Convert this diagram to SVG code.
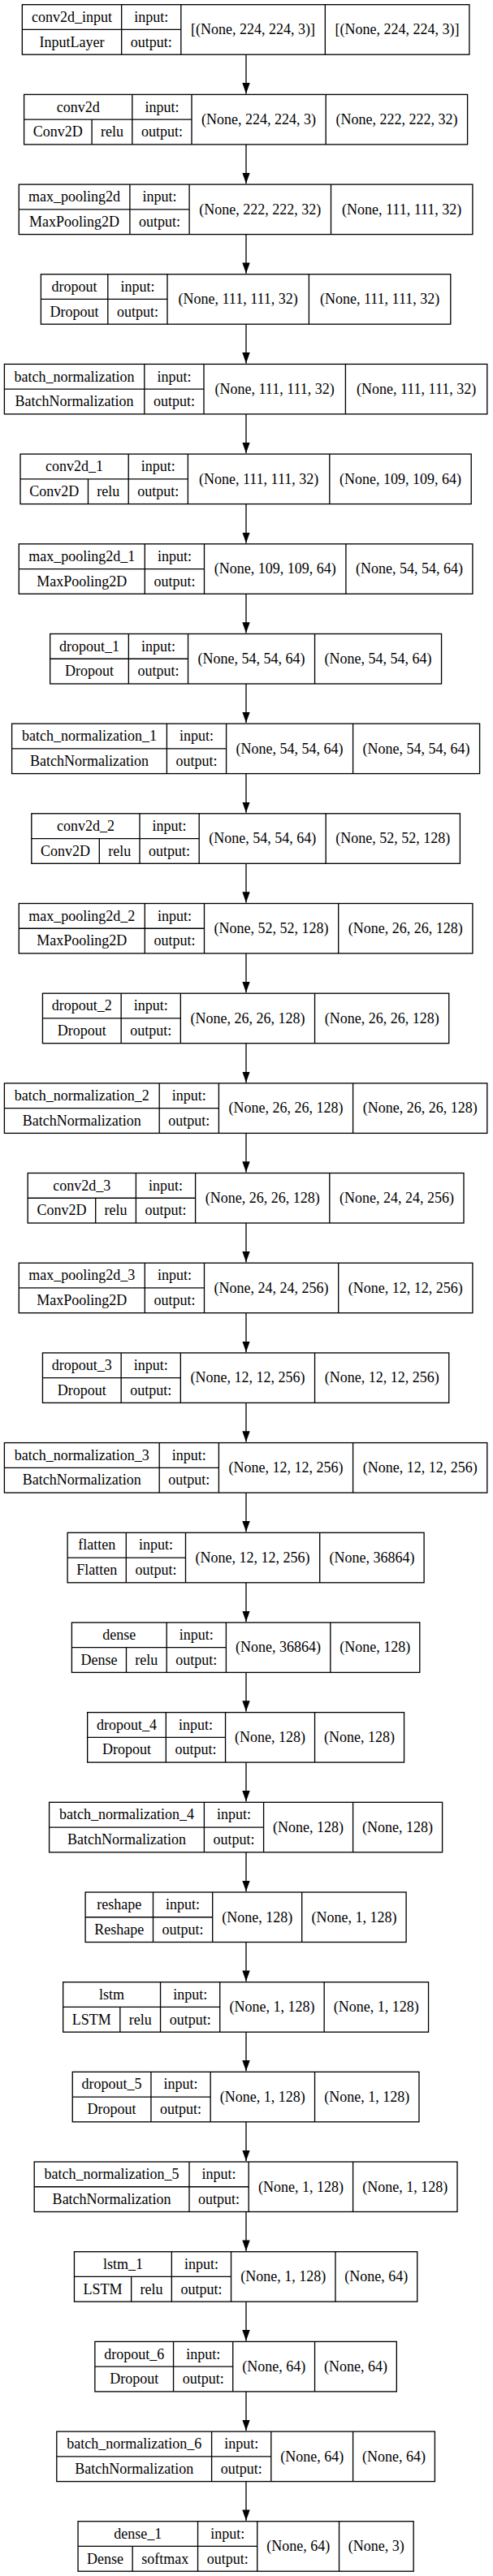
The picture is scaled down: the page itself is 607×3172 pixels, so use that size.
<svg xmlns="http://www.w3.org/2000/svg" width="607" height="3172" viewBox="0 0 607 3172">
<style>
.n rect{fill:#fff;stroke:#000;stroke-width:1.33}
.n path{fill:none;stroke:#000;stroke-width:1.33}
.n text{font-family:"Liberation Serif","Times New Roman",serif;font-size:18px;text-anchor:middle;fill:#000}
#edges path{fill:none;stroke:#000;stroke-width:1.33;marker-end:url(#ah)}
</style>
<defs>
<marker id="ah" markerWidth="14" markerHeight="10" refX="13.3" refY="4.7" orient="auto" markerUnits="userSpaceOnUse"><path d="M0,0 L13.3,4.7 L0,9.4 z" fill="#000"/></marker>
</defs>
<rect width="607" height="3172" fill="#fff"/>
<g id="edges">
<path d="M303 67.2V115.4"/>
<path d="M303 177.9V226.1"/>
<path d="M303 288.6V336.7"/>
<path d="M303 399.2V447.4"/>
<path d="M303 509.9V558.1"/>
<path d="M303 620.6V668.8"/>
<path d="M303 731.3V779.5"/>
<path d="M303 842V890.1"/>
<path d="M303 952.6V1000.8"/>
<path d="M303 1063.3V1111.5"/>
<path d="M303 1174V1222.2"/>
<path d="M303 1284.7V1332.9"/>
<path d="M303 1395.4V1443.5"/>
<path d="M303 1506V1554.2"/>
<path d="M303 1616.7V1664.9"/>
<path d="M303 1727.4V1775.6"/>
<path d="M303 1838.1V1886.3"/>
<path d="M303 1948.8V1996.9"/>
<path d="M303 2059.4V2107.6"/>
<path d="M303 2170.1V2218.3"/>
<path d="M303 2280.8V2329"/>
<path d="M303 2391.5V2439.7"/>
<path d="M303 2502.2V2550.3"/>
<path d="M303 2612.8V2661"/>
<path d="M303 2723.5V2771.7"/>
<path d="M303 2834.2V2882.4"/>
<path d="M303 2944.9V2993.1"/>
<path d="M303 3055.6V3103.7"/>
</g>
<g id="conv2d_input" class="n" transform="translate(27.35,5.7)"><rect width="550.5" height="61.5"/><path d="M122.3 0V61.5M195.5 0V61.5M373 0V61.5M0 30.75H195.5"/><text x="61.15" y="21.2">conv2d_input</text><text x="61.15" y="51.9">InputLayer</text><text x="158.9" y="21.2">input:</text><text x="158.9" y="51.9">output:</text><text x="284.25" y="36.6">[(None, 224, 224, 3)]</text><text x="461.75" y="36.6">[(None, 224, 224, 3)]</text></g>
<g id="conv2d" class="n" transform="translate(29.6,116.4)"><rect width="546" height="61.5"/><path d="M133.2 0V61.5M206.4 0V61.5M371.6 0V61.5M0 30.75H206.4M83.5 30.75V61.5"/><text x="66.6" y="21.2">conv2d</text><text x="41.75" y="51.9">Conv2D</text><text x="108.35" y="51.9">relu</text><text x="169.8" y="21.2">input:</text><text x="169.8" y="51.9">output:</text><text x="289" y="36.6">(None, 224, 224, 3)</text><text x="458.8" y="36.6">(None, 222, 222, 32)</text></g>
<g id="max_pooling2d" class="n" transform="translate(23.3,227.1)"><rect width="558.6" height="61.5"/><path d="M136.6 0V61.5M209.8 0V61.5M384.2 0V61.5M0 30.75H209.8"/><text x="68.3" y="21.2">max_pooling2d</text><text x="68.3" y="51.9">MaxPooling2D</text><text x="173.2" y="21.2">input:</text><text x="173.2" y="51.9">output:</text><text x="297" y="36.6">(None, 222, 222, 32)</text><text x="471.4" y="36.6">(None, 111, 111, 32)</text></g>
<g id="dropout" class="n" transform="translate(50.4,337.7)"><rect width="504.4" height="61.5"/><path d="M82.4 0V61.5M155.6 0V61.5M330 0V61.5M0 30.75H155.6"/><text x="41.2" y="21.2">dropout</text><text x="41.2" y="51.9">Dropout</text><text x="119" y="21.2">input:</text><text x="119" y="51.9">output:</text><text x="242.8" y="36.6">(None, 111, 111, 32)</text><text x="417.2" y="36.6">(None, 111, 111, 32)</text></g>
<g id="batch_normalization" class="n" transform="translate(5.4,448.4)"><rect width="594.4" height="61.5"/><path d="M172.4 0V61.5M245.6 0V61.5M420 0V61.5M0 30.75H245.6"/><text x="86.2" y="21.2">batch_normalization</text><text x="86.2" y="51.9">BatchNormalization</text><text x="209" y="21.2">input:</text><text x="209" y="51.9">output:</text><text x="332.8" y="36.6">(None, 111, 111, 32)</text><text x="507.2" y="36.6">(None, 111, 111, 32)</text></g>
<g id="conv2d_1" class="n" transform="translate(25,559.1)"><rect width="555.2" height="61.5"/><path d="M133.2 0V61.5M206.4 0V61.5M380.8 0V61.5M0 30.75H206.4M83.5 30.75V61.5"/><text x="66.6" y="21.2">conv2d_1</text><text x="41.75" y="51.9">Conv2D</text><text x="108.35" y="51.9">relu</text><text x="169.8" y="21.2">input:</text><text x="169.8" y="51.9">output:</text><text x="293.6" y="36.6">(None, 111, 111, 32)</text><text x="468" y="36.6">(None, 109, 109, 64)</text></g>
<g id="max_pooling2d_1" class="n" transform="translate(23.3,669.8)"><rect width="558.6" height="61.5"/><path d="M155 0V61.5M228.2 0V61.5M402.6 0V61.5M0 30.75H228.2"/><text x="77.5" y="21.2">max_pooling2d_1</text><text x="77.5" y="51.9">MaxPooling2D</text><text x="191.6" y="21.2">input:</text><text x="191.6" y="51.9">output:</text><text x="315.4" y="36.6">(None, 109, 109, 64)</text><text x="480.6" y="36.6">(None, 54, 54, 64)</text></g>
<g id="dropout_1" class="n" transform="translate(61.65,780.5)"><rect width="481.9" height="61.5"/><path d="M96.7 0V61.5M169.9 0V61.5M325.9 0V61.5M0 30.75H169.9"/><text x="48.35" y="21.2">dropout_1</text><text x="48.35" y="51.9">Dropout</text><text x="133.3" y="21.2">input:</text><text x="133.3" y="51.9">output:</text><text x="247.9" y="36.6">(None, 54, 54, 64)</text><text x="403.9" y="36.6">(None, 54, 54, 64)</text></g>
<g id="batch_normalization_1" class="n" transform="translate(14.6,891.1)"><rect width="576" height="61.5"/><path d="M190.8 0V61.5M264 0V61.5M420 0V61.5M0 30.75H264"/><text x="95.4" y="21.2">batch_normalization_1</text><text x="95.4" y="51.9">BatchNormalization</text><text x="227.4" y="21.2">input:</text><text x="227.4" y="51.9">output:</text><text x="342" y="36.6">(None, 54, 54, 64)</text><text x="498" y="36.6">(None, 54, 54, 64)</text></g>
<g id="conv2d_2" class="n" transform="translate(38.8,1001.8)"><rect width="527.6" height="61.5"/><path d="M133.2 0V61.5M206.4 0V61.5M362.4 0V61.5M0 30.75H206.4M83.5 30.75V61.5"/><text x="66.6" y="21.2">conv2d_2</text><text x="41.75" y="51.9">Conv2D</text><text x="108.35" y="51.9">relu</text><text x="169.8" y="21.2">input:</text><text x="169.8" y="51.9">output:</text><text x="284.4" y="36.6">(None, 54, 54, 64)</text><text x="445" y="36.6">(None, 52, 52, 128)</text></g>
<g id="max_pooling2d_2" class="n" transform="translate(23.3,1112.5)"><rect width="558.6" height="61.5"/><path d="M155 0V61.5M228.2 0V61.5M393.4 0V61.5M0 30.75H228.2"/><text x="77.5" y="21.2">max_pooling2d_2</text><text x="77.5" y="51.9">MaxPooling2D</text><text x="191.6" y="21.2">input:</text><text x="191.6" y="51.9">output:</text><text x="310.8" y="36.6">(None, 52, 52, 128)</text><text x="476" y="36.6">(None, 26, 26, 128)</text></g>
<g id="dropout_2" class="n" transform="translate(52.45,1223.2)"><rect width="500.3" height="61.5"/><path d="M96.7 0V61.5M169.9 0V61.5M335.1 0V61.5M0 30.75H169.9"/><text x="48.35" y="21.2">dropout_2</text><text x="48.35" y="51.9">Dropout</text><text x="133.3" y="21.2">input:</text><text x="133.3" y="51.9">output:</text><text x="252.5" y="36.6">(None, 26, 26, 128)</text><text x="417.7" y="36.6">(None, 26, 26, 128)</text></g>
<g id="batch_normalization_2" class="n" transform="translate(5.4,1333.9)"><rect width="594.4" height="61.5"/><path d="M190.8 0V61.5M264 0V61.5M429.2 0V61.5M0 30.75H264"/><text x="95.4" y="21.2">batch_normalization_2</text><text x="95.4" y="51.9">BatchNormalization</text><text x="227.4" y="21.2">input:</text><text x="227.4" y="51.9">output:</text><text x="346.6" y="36.6">(None, 26, 26, 128)</text><text x="511.8" y="36.6">(None, 26, 26, 128)</text></g>
<g id="conv2d_3" class="n" transform="translate(34.2,1444.5)"><rect width="536.8" height="61.5"/><path d="M133.2 0V61.5M206.4 0V61.5M371.6 0V61.5M0 30.75H206.4M83.5 30.75V61.5"/><text x="66.6" y="21.2">conv2d_3</text><text x="41.75" y="51.9">Conv2D</text><text x="108.35" y="51.9">relu</text><text x="169.8" y="21.2">input:</text><text x="169.8" y="51.9">output:</text><text x="289" y="36.6">(None, 26, 26, 128)</text><text x="454.2" y="36.6">(None, 24, 24, 256)</text></g>
<g id="max_pooling2d_3" class="n" transform="translate(23.3,1555.2)"><rect width="558.6" height="61.5"/><path d="M155 0V61.5M228.2 0V61.5M393.4 0V61.5M0 30.75H228.2"/><text x="77.5" y="21.2">max_pooling2d_3</text><text x="77.5" y="51.9">MaxPooling2D</text><text x="191.6" y="21.2">input:</text><text x="191.6" y="51.9">output:</text><text x="310.8" y="36.6">(None, 24, 24, 256)</text><text x="476" y="36.6">(None, 12, 12, 256)</text></g>
<g id="dropout_3" class="n" transform="translate(52.45,1665.9)"><rect width="500.3" height="61.5"/><path d="M96.7 0V61.5M169.9 0V61.5M335.1 0V61.5M0 30.75H169.9"/><text x="48.35" y="21.2">dropout_3</text><text x="48.35" y="51.9">Dropout</text><text x="133.3" y="21.2">input:</text><text x="133.3" y="51.9">output:</text><text x="252.5" y="36.6">(None, 12, 12, 256)</text><text x="417.7" y="36.6">(None, 12, 12, 256)</text></g>
<g id="batch_normalization_3" class="n" transform="translate(5.4,1776.6)"><rect width="594.4" height="61.5"/><path d="M190.8 0V61.5M264 0V61.5M429.2 0V61.5M0 30.75H264"/><text x="95.4" y="21.2">batch_normalization_3</text><text x="95.4" y="51.9">BatchNormalization</text><text x="227.4" y="21.2">input:</text><text x="227.4" y="51.9">output:</text><text x="346.6" y="36.6">(None, 12, 12, 256)</text><text x="511.8" y="36.6">(None, 12, 12, 256)</text></g>
<g id="flatten" class="n" transform="translate(83.1,1887.3)"><rect width="439" height="61.5"/><path d="M72.2 0V61.5M145.4 0V61.5M310.6 0V61.5M0 30.75H145.4"/><text x="36.1" y="21.2">flatten</text><text x="36.1" y="51.9">Flatten</text><text x="108.8" y="21.2">input:</text><text x="108.8" y="51.9">output:</text><text x="228" y="36.6">(None, 12, 12, 256)</text><text x="374.8" y="36.6">(None, 36864)</text></g>
<g id="dense" class="n" transform="translate(88.4,1997.9)"><rect width="428.4" height="61.5"/><path d="M116.8 0V61.5M190 0V61.5M318.4 0V61.5M0 30.75H190M67.1 30.75V61.5"/><text x="58.4" y="21.2">dense</text><text x="33.55" y="51.9">Dense</text><text x="91.95" y="51.9">relu</text><text x="153.4" y="21.2">input:</text><text x="153.4" y="51.9">output:</text><text x="254.2" y="36.6">(None, 36864)</text><text x="373.4" y="36.6">(None, 128)</text></g>
<g id="dropout_4" class="n" transform="translate(107.65,2108.6)"><rect width="389.9" height="61.5"/><path d="M96.7 0V61.5M169.9 0V61.5M279.9 0V61.5M0 30.75H169.9"/><text x="48.35" y="21.2">dropout_4</text><text x="48.35" y="51.9">Dropout</text><text x="133.3" y="21.2">input:</text><text x="133.3" y="51.9">output:</text><text x="224.9" y="36.6">(None, 128)</text><text x="334.9" y="36.6">(None, 128)</text></g>
<g id="batch_normalization_4" class="n" transform="translate(60.6,2219.3)"><rect width="484" height="61.5"/><path d="M190.8 0V61.5M264 0V61.5M374 0V61.5M0 30.75H264"/><text x="95.4" y="21.2">batch_normalization_4</text><text x="95.4" y="51.9">BatchNormalization</text><text x="227.4" y="21.2">input:</text><text x="227.4" y="51.9">output:</text><text x="319" y="36.6">(None, 128)</text><text x="429" y="36.6">(None, 128)</text></g>
<g id="reshape" class="n" transform="translate(105.1,2330)"><rect width="395" height="61.5"/><path d="M83.4 0V61.5M156.6 0V61.5M266.6 0V61.5M0 30.75H156.6"/><text x="41.7" y="21.2">reshape</text><text x="41.7" y="51.9">Reshape</text><text x="120" y="21.2">input:</text><text x="120" y="51.9">output:</text><text x="211.6" y="36.6">(None, 128)</text><text x="330.8" y="36.6">(None, 1, 128)</text></g>
<g id="lstm" class="n" transform="translate(77.65,2440.7)"><rect width="449.9" height="61.5"/><path d="M119.9 0V61.5M193.1 0V61.5M321.5 0V61.5M0 30.75H193.1M70.2 30.75V61.5"/><text x="59.95" y="21.2">lstm</text><text x="35.1" y="51.9">LSTM</text><text x="95.05" y="51.9">relu</text><text x="156.5" y="21.2">input:</text><text x="156.5" y="51.9">output:</text><text x="257.3" y="36.6">(None, 1, 128)</text><text x="385.7" y="36.6">(None, 1, 128)</text></g>
<g id="dropout_5" class="n" transform="translate(89.25,2551.3)"><rect width="426.7" height="61.5"/><path d="M96.7 0V61.5M169.9 0V61.5M298.3 0V61.5M0 30.75H169.9"/><text x="48.35" y="21.2">dropout_5</text><text x="48.35" y="51.9">Dropout</text><text x="133.3" y="21.2">input:</text><text x="133.3" y="51.9">output:</text><text x="234.1" y="36.6">(None, 1, 128)</text><text x="362.5" y="36.6">(None, 1, 128)</text></g>
<g id="batch_normalization_5" class="n" transform="translate(42.2,2662)"><rect width="520.8" height="61.5"/><path d="M190.8 0V61.5M264 0V61.5M392.4 0V61.5M0 30.75H264"/><text x="95.4" y="21.2">batch_normalization_5</text><text x="95.4" y="51.9">BatchNormalization</text><text x="227.4" y="21.2">input:</text><text x="227.4" y="51.9">output:</text><text x="328.2" y="36.6">(None, 1, 128)</text><text x="456.6" y="36.6">(None, 1, 128)</text></g>
<g id="lstm_1" class="n" transform="translate(91.45,2772.7)"><rect width="422.3" height="61.5"/><path d="M119.9 0V61.5M193.1 0V61.5M321.5 0V61.5M0 30.75H193.1M70.2 30.75V61.5"/><text x="59.95" y="21.2">lstm_1</text><text x="35.1" y="51.9">LSTM</text><text x="95.05" y="51.9">relu</text><text x="156.5" y="21.2">input:</text><text x="156.5" y="51.9">output:</text><text x="257.3" y="36.6">(None, 1, 128)</text><text x="371.9" y="36.6">(None, 64)</text></g>
<g id="dropout_6" class="n" transform="translate(116.85,2883.4)"><rect width="371.5" height="61.5"/><path d="M96.7 0V61.5M169.9 0V61.5M270.7 0V61.5M0 30.75H169.9"/><text x="48.35" y="21.2">dropout_6</text><text x="48.35" y="51.9">Dropout</text><text x="133.3" y="21.2">input:</text><text x="133.3" y="51.9">output:</text><text x="220.3" y="36.6">(None, 64)</text><text x="321.1" y="36.6">(None, 64)</text></g>
<g id="batch_normalization_6" class="n" transform="translate(69.8,2994.1)"><rect width="465.6" height="61.5"/><path d="M190.8 0V61.5M264 0V61.5M364.8 0V61.5M0 30.75H264"/><text x="95.4" y="21.2">batch_normalization_6</text><text x="95.4" y="51.9">BatchNormalization</text><text x="227.4" y="21.2">input:</text><text x="227.4" y="51.9">output:</text><text x="314.4" y="36.6">(None, 64)</text><text x="415.2" y="36.6">(None, 64)</text></g>
<g id="dense_1" class="n" transform="translate(96.05,3104.7)"><rect width="413.1" height="61.5"/><path d="M147.5 0V61.5M220.7 0V61.5M321.5 0V61.5M0 30.75H220.7M67.1 30.75V61.5"/><text x="73.75" y="21.2">dense_1</text><text x="33.55" y="51.9">Dense</text><text x="107.3" y="51.9">softmax</text><text x="184.1" y="21.2">input:</text><text x="184.1" y="51.9">output:</text><text x="271.1" y="36.6">(None, 64)</text><text x="367.3" y="36.6">(None, 3)</text></g>
</svg>
